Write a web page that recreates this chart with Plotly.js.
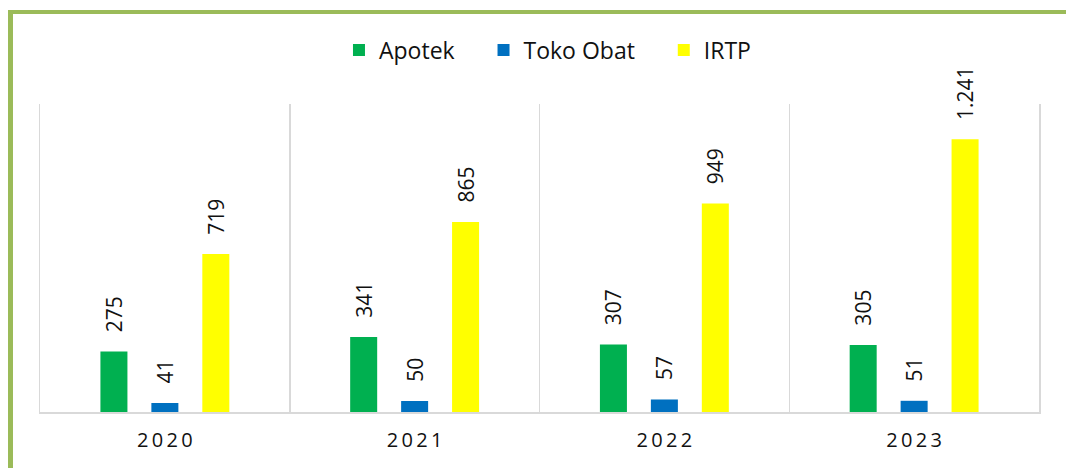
<html lang="id">
  <head>
    <meta charset="UTF-8" />
    <script src="https://cdn.plot.ly/plotly-3.0.1.min.js"></script>
    <style>
      body { margin: 0; background: #fff; }
      #chart { position: absolute; left: 0; top: 0; width: 1066px; height: 468px; }
      #frame {
        position: absolute; left: 8px; top: 10px; right: 0; bottom: 0;
        border-left: 5px solid #9bbb59; border-top: 4px solid #9bbb59;
        pointer-events: none;
      }
    </style>
  </head>
  <body>
    <div id="chart"></div>
    <div id="frame"></div>
    <script>
      // tahun
      const years = ['2020', '2021', '2022', '2023'];

      // jumlah sarana per tahun
      const apotek = [275, 341, 307, 305];
      const tokoObat = [41, 50, 57, 51];
      const irtp = [719, 865, 949, 1241];

      const seriesNames = ['Apotek', 'Toko Obat', 'IRTP'];
      const seriesColors = ['#00b050', '#0070c0', '#ffff00'];
      const seriesValues = [apotek, tokoObat, irtp];

      const nb = '\u00a0';
      const traces = seriesValues.map((vals, i) => ({
        type: 'bar',
        name: seriesNames[i] + nb.repeat(4),
        x: years,
        y: vals,
        marker: { color: seriesColors[i] },
        texttemplate: nb.repeat(3) + '%{y:,}',
        textposition: 'outside',
        textangle: -90,
        constraintext: 'none',
        cliponaxis: false,
        textfont: { family: 'Open Sans, sans-serif', size: 21, color: '#111111' },
        hoverinfo: 'skip'
      }));

      const layout = {
        width: 1066,
        height: 468,
        margin: { l: 40, r: 27, t: 104, b: 56 },
        paper_bgcolor: '#ffffff',
        plot_bgcolor: '#ffffff',
        separators: ',.',
        barmode: 'group',
        bargap: 0.388,
        bargroupgap: 0.47,
        font: { family: 'Open Sans, sans-serif', color: '#111111' },
        showlegend: true,
        legend: {
          orientation: 'h',
          x: 0.52, xanchor: 'center',
          y: 1.175, yanchor: 'middle',
          font: { size: 23, color: '#111111' },
          itemclick: false
        },
        xaxis: {
          type: 'category',
          tickvals: years,
          ticktext: years.map(y => y.split('').join('\u2009')),
          tickson: 'boundaries',
          ticks: '',
          showgrid: true,
          gridcolor: '#d9d9d9',
          gridwidth: 1.5,
          showline: true,
          linecolor: '#d9d9d9',
          linewidth: 2,
          tickfont: { size: 20, color: '#111111' },
          ticklabelstandoff: 9
        },
        yaxis: {
          range: [0, 1402],
          showticklabels: false,
          showgrid: false,
          zeroline: false,
          ticks: '',
          showline: true,
          mirror: true,
          linecolor: '#d9d9d9',
          linewidth: 1.5
        }
      };

      Plotly.newPlot('chart', traces, layout, { displayModeBar: false, staticPlot: true });
    </script>
  </body>
</html>
